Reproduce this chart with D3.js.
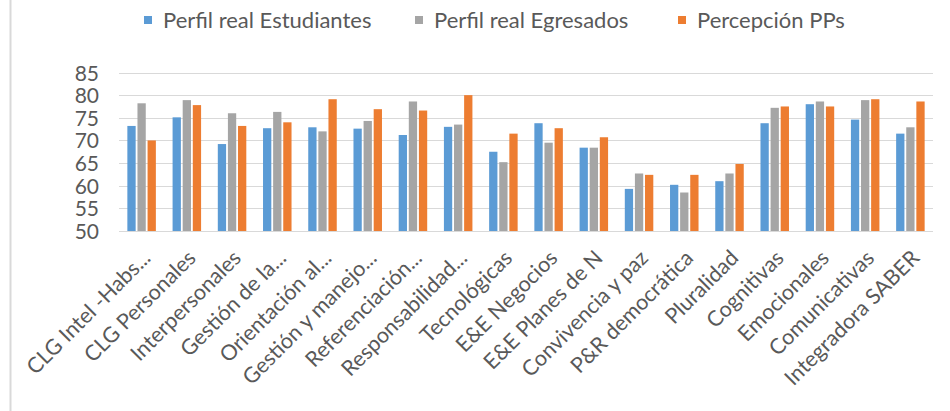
<!DOCTYPE html>
<html>
<head>
<meta charset="utf-8">
<script src="https://cdn.jsdelivr.net/npm/d3@7"></script>
<style>
  html, body { margin: 0; padding: 0; background: #ffffff; }
  svg { display: block; }
  text { font-family: Lato, "Open Sans", sans-serif; fill: #595959; }
</style>
</head>
<body>
<svg id="chart" width="950" height="411"></svg>
<script>
// ---- data ----
const categories = [
  "CLG Intel -Habs...", "CLG Personales", "Interpersonales", "Gestión de la...",
  "Orientación al...", "Gestión y manejo...", "Referenciación...", "Responsabilidad...",
  "Tecnológicas", "E&E Negocios", "E&E Planes de N", "Convivencia y paz",
  "P&R democrática", "Pluralidad", "Cognitivas", "Emocionales",
  "Comunicativas", "Integradora SABER"
];
const seriesNames = ["Perfil real Estudiantes", "Perfil real Egresados", "Percepción PPs"];
const estudiantes = [73.2, 75.1, 69.2, 72.7, 72.9, 72.6, 71.2, 73.0, 67.5, 73.8, 68.4, 59.3, 60.2, 61.0, 73.8, 78.0, 74.6, 71.5];
const egresados   = [78.2, 78.9, 76.0, 76.3, 72.0, 74.3, 78.6, 73.5, 65.2, 69.5, 68.4, 62.7, 58.5, 62.7, 77.2, 78.6, 78.9, 72.9];
const percepcion  = [70.0, 77.8, 73.2, 74.0, 79.1, 76.9, 76.6, 80.0, 71.5, 72.7, 70.7, 62.4, 62.4, 64.8, 77.5, 77.5, 79.1, 78.6];
const yTicks = [50, 55, 60, 65, 70, 75, 80, 85];
const colors = ["#5B9BD5", "#A5A5A5", "#ED7D31"];

const seriesValues = [estudiantes, egresados, percepcion];

const svg = d3.select("#chart");

// left border of the chart frame
svg.append("line")
  .attr("x1", 10.5).attr("x2", 10.5).attr("y1", 0).attr("y2", 411)
  .attr("stroke", "#D9D9D9").attr("stroke-width", 2);

const plotLeft = 119, plotRight = 933, plotTop = 72.5, plotBottom = 231;

const x = d3.scaleBand().domain(categories).range([plotLeft, plotRight]).paddingInner(0).paddingOuter(0);
const y = d3.scaleLinear().domain([50, 85]).range([plotBottom, plotTop]);

const groupWidth = 28.5;
const xSub = d3.scaleBand().domain(seriesNames).range([-groupWidth / 2, groupWidth / 2]).paddingInner(0.18).paddingOuter(0);

// gridlines
svg.append("g").selectAll("line")
  .data(yTicks)
  .join("line")
  .attr("x1", plotLeft).attr("x2", plotRight)
  .attr("y1", d => Math.round(y(d)) + 0.5).attr("y2", d => Math.round(y(d)) + 0.5)
  .attr("stroke", "#D9D9D9").attr("stroke-width", 1.2);

// y axis labels
const yAxis = d3.axisLeft(y).tickValues(yTicks).tickSize(0).tickPadding(0);
const yg = svg.append("g").attr("transform", `translate(${99},0)`).call(yAxis);
yg.select(".domain").remove();
yg.selectAll("text")
  .style("font-family", "Lato, sans-serif")
  .style("font-size", "21px")
  .style("fill", "#595959")
  .attr("dy", "0.36em");

// bars
const rows = [];
categories.forEach((c, i) => {
  seriesNames.forEach((s, j) => {
    rows.push({ cat: c, ser: s, j: j, v: seriesValues[j][i] });
  });
});
svg.append("g").selectAll("rect")
  .data(rows)
  .join("rect")
  .attr("x", d => x(d.cat) + x.bandwidth() / 2 + xSub(d.ser))
  .attr("width", xSub.bandwidth())
  .attr("y", d => y(d.v))
  .attr("height", d => y(50) - y(d.v))
  .attr("fill", d => colors[d.j]);

// x axis labels (rotated)
const xAxis = d3.axisBottom(x).tickSize(0).tickPadding(0);
const xg = svg.append("g").attr("transform", `translate(0,${plotBottom})`).call(xAxis);
xg.select(".domain").remove();
xg.selectAll(".tick text")
  .style("font-family", "Lato, sans-serif")
  .style("font-size", "21.5px")
  .style("fill", "#595959")
  .attr("text-anchor", "end")
  .attr("transform", "translate(5,23) rotate(-45)")
  .attr("dy", "0.35em")
  .attr("y", 0);

// legend
const legendX = [144, 415, 678];
const lg = svg.append("g");
seriesNames.forEach((s, j) => {
  lg.append("rect")
    .attr("x", legendX[j]).attr("y", 16)
    .attr("width", 8).attr("height", 8)
    .attr("fill", colors[j]);
  lg.append("text")
    .attr("x", legendX[j] + 19).attr("y", 20)
    .attr("dy", "0.35em")
    .style("font-size", "22px")
    .text(s);
});
</script>
</body>
</html>
